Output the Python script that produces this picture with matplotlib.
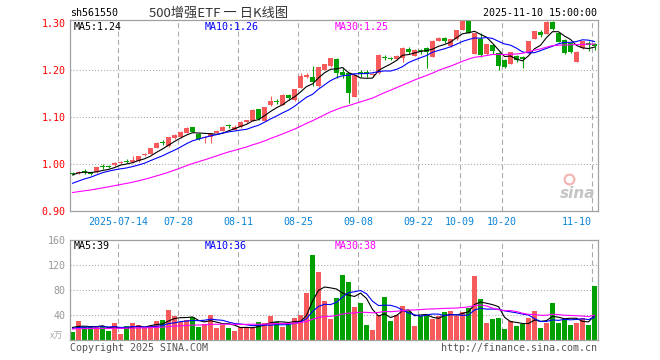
import matplotlib
matplotlib.use("Agg")
import matplotlib.pyplot as plt
import numpy as np
import pandas as pd

plt.rcParams["lines.scale_dashes"] = False

# Palette / fonts
RED = "#f65a5a"
GREEN = "#00a000"
GRID = "#aaaaaa"
FRAME = "#a0a0a0"
DATE_BLUE = "#0a84d8"
MONO = "DejaVu Sans Mono"
CJK = ["Noto Sans CJK SC", "DejaVu Sans"]

# ---- data (2025-07-02 .. 2025-11-10, 88 trading days) ----
opens = [0.981, 0.981, 0.985, 0.981, 0.982, 0.996, 0.996, 0.997, 1.002, 1.007,
         1.004, 1.006, 1.019, 1.022, 1.035, 1.046, 1.038, 1.055, 1.057, 1.067,
         1.078, 1.064, 1.055, 1.058, 1.067, 1.071, 1.083, 1.073, 1.078, 1.089,
         1.092, 1.117, 1.092, 1.125, 1.134, 1.126, 1.146, 1.136, 1.162, 1.185,
         1.186, 1.165, 1.201, 1.208, 1.223, 1.196, 1.193, 1.143, 1.196, 1.196,
         1.189, 1.193, 1.228, 1.226, 1.223, 1.225, 1.245, 1.230, 1.243, 1.246,
         1.228, 1.262, 1.269, 1.252, 1.265, 1.286, 1.305, 1.235, 1.265, 1.233,
         1.253, 1.237, 1.221, 1.213, 1.229, 1.227, 1.236, 1.267, 1.280, 1.277,
         1.303, 1.278, 1.264, 1.257, 1.218, 1.246, 1.258, 1.256]
closes = [0.979, 0.983, 0.983, 0.978, 0.993, 0.994, 0.994, 1.003, 1.004, 1.005,
          1.008, 1.017, 1.021, 1.033, 1.045, 1.044, 1.057, 1.061, 1.069, 1.077,
          1.069, 1.054, 1.057, 1.065, 1.071, 1.079, 1.081, 1.079, 1.090, 1.093,
          1.115, 1.095, 1.121, 1.135, 1.132, 1.147, 1.141, 1.159, 1.187, 1.190,
          1.175, 1.206, 1.212, 1.225, 1.194, 1.189, 1.152, 1.189, 1.191, 1.191,
          1.191, 1.232, 1.226, 1.223, 1.230, 1.246, 1.239, 1.243, 1.240, 1.238,
          1.262, 1.269, 1.262, 1.265, 1.285, 1.305, 1.279, 1.278, 1.232, 1.255,
          1.241, 1.208, 1.207, 1.238, 1.221, 1.224, 1.261, 1.282, 1.275, 1.303,
          1.287, 1.260, 1.236, 1.239, 1.239, 1.261, 1.253, 1.252]
highs = [0.983, 0.985, 0.989, 0.982, 0.994, 0.999, 0.997, 1.004, 1.006, 1.010,
         1.017, 1.018, 1.023, 1.034, 1.046, 1.052, 1.058, 1.063, 1.070, 1.078,
         1.079, 1.066, 1.060, 1.066, 1.072, 1.080, 1.086, 1.083, 1.091, 1.094,
         1.116, 1.118, 1.122, 1.145, 1.138, 1.148, 1.149, 1.160, 1.193, 1.193,
         1.209, 1.207, 1.213, 1.226, 1.225, 1.207, 1.194, 1.190, 1.199, 1.200,
         1.194, 1.234, 1.232, 1.227, 1.231, 1.248, 1.248, 1.244, 1.245, 1.248,
         1.263, 1.270, 1.270, 1.266, 1.286, 1.306, 1.306, 1.279, 1.278, 1.256,
         1.256, 1.238, 1.223, 1.239, 1.231, 1.229, 1.262, 1.283, 1.285, 1.304,
         1.304, 1.279, 1.265, 1.258, 1.240, 1.262, 1.261, 1.258]
lows = [0.977, 0.979, 0.978, 0.976, 0.981, 0.990, 0.992, 0.996, 1.001, 1.002,
        1.003, 1.005, 1.018, 1.021, 1.034, 1.040, 1.037, 1.054, 1.056, 1.066,
        1.068, 1.051, 1.044, 1.045, 1.066, 1.070, 1.077, 1.072, 1.077, 1.088,
        1.091, 1.094, 1.091, 1.124, 1.127, 1.125, 1.137, 1.135, 1.161, 1.182,
        1.167, 1.164, 1.200, 1.207, 1.182, 1.182, 1.129, 1.142, 1.186, 1.186,
        1.186, 1.192, 1.221, 1.221, 1.222, 1.218, 1.233, 1.229, 1.233, 1.205,
        1.227, 1.261, 1.258, 1.250, 1.264, 1.285, 1.278, 1.233, 1.227, 1.232,
        1.235, 1.201, 1.204, 1.212, 1.218, 1.204, 1.235, 1.266, 1.270, 1.276,
        1.286, 1.259, 1.233, 1.237, 1.217, 1.245, 1.240, 1.243]
volumes = [13.3, 31, 21.3, 20.3, 21, 20.5, 15, 27.7, 9.6, 22.4,
           27.7, 24, 18.7, 22.4, 31, 32, 48, 38.4, 29.3, 32,
           36.3, 21.3, 25.6, 40, 20, 24, 20, 15, 20.5, 21.3,
           21, 29.3, 27.7, 38.4, 29.3, 20.3, 24, 35.7, 40, 75.7,
           136, 109.3, 63, 33, 66.7, 104, 92.3, 52.3, 59.7, 24,
           16, 40, 69, 31, 40, 54, 47, 22, 38, 42,
           33, 38, 45, 46, 38, 45, 52, 103, 66, 28,
           34, 36, 18, 31, 22, 25, 36, 46, 20, 28,
           60, 28, 34, 24, 28, 35, 24, 86]
# closes / volumes of the 29 sessions before the window (feed the moving averages)
prior_closes = [0.925, 0.928, 0.930, 0.927, 0.924, 0.926, 0.929, 0.931, 0.933, 0.930,
                0.928, 0.926, 0.929, 0.932, 0.934, 0.931, 0.928, 0.930, 0.932, 0.935,
                0.936, 0.938, 0.942, 0.944, 0.946, 0.962, 0.975, 0.982, 0.986]
prior_volumes = [16, 18, 15, 19, 17, 20, 16, 15, 18, 17,
                 19, 16, 14, 18, 17, 20, 18, 16, 15, 17,
                 18, 16, 19, 17, 17, 22, 20, 24, 21]
tick_idx = [8, 18, 28, 38, 48, 58, 65, 72, 87]
tick_labels = ["2025-07-14", "07-28", "08-11", "08-25", "09-08",
               "09-22", "10-09", "10-20", "11-10"]
price_ticks = [0.90, 1.00, 1.10, 1.20, 1.30]
price_grid = [1.00, 1.10, 1.20]
vol_ticks = [40, 80, 120, 160]
vol_grid = [40, 80, 120]
ma_windows = [5, 10, 30]
ma_colors = ["#000000", "#0000ff", "#ff00ff"]
ma_price_labels = ["1.24", "1.26", "1.25"]
ma_vol_labels = ["39", "36", "38"]

W, H = 660, 360
fig = plt.figure(figsize=(6.6, 3.6), dpi=100)
fig.patch.set_facecolor("white")


def px_axes(x0, y0, x1, y1):
    return fig.add_axes([x0 / W, 1 - y1 / H, (x1 - x0) / W, (y1 - y0) / H])


def ftxt(x, y, s, size=7.2, color="black", ha="left", family=MONO, **kw):
    fig.text(x / W, 1 - y / H, s, fontsize=size, color=color, ha=ha, va="center",
             family=family, **kw)


n = len(closes)
xc = np.arange(n) + 0.42
o = np.array(opens); c = np.array(closes)
up = c >= o
cols = np.where(up, RED, GREEN)

all_c = pd.Series(prior_closes + closes)
all_v = pd.Series(prior_volumes + volumes)

ax = px_axes(70, 20, 598, 211)
axv = px_axes(70, 240, 598, 340)

for a in (ax, axv):
    a.set_xlim(0, n)
    for s in a.spines.values():
        s.set_color(FRAME); s.set_linewidth(0.9)
    for t in tick_idx:
        a.axvline(t, color=GRID, lw=0.8, ls=(0, (3.6, 2.4)), zorder=0)

# ---- price panel ----
ax.set_ylim(0.90, 0.90 + 191 / 470)
for g in price_grid:
    ax.axhline(g, color=GRID, lw=0.8, ls=(0, (0.8, 1.4)), zorder=0)
ax.vlines(xc, lows, highs, colors=cols, lw=0.8, zorder=2)
body = np.maximum(np.abs(c - o), 0.0022)
ax.bar(xc, body, bottom=np.minimum(o, c), width=0.8, color=cols, lw=0, zorder=3)
for w, col in zip(ma_windows, ma_colors):
    ma = all_c.rolling(w).mean().to_numpy()[-n:]
    ax.plot(xc, ma, color=col, lw=0.8, zorder=4)
ax.set_yticks(price_ticks)
ax.set_yticklabels([f"{v:.2f}" for v in price_ticks], family=MONO, fontsize=7.2, color="red")
ax.set_xticks(tick_idx)
ax.set_xticklabels(tick_labels, family=MONO, fontsize=7.2, color=DATE_BLUE)
ax.get_xticklabels()[-1].set_ha("right")
ax.tick_params(length=0, pad=3)
ax.tick_params(axis="x", pad=4)

# sina watermark
ax.text(0.995, 0.05, "sina", transform=ax.transAxes, ha="right", va="bottom",
        fontsize=11, color="#c4c4c4", style="italic", weight="bold", zorder=1)
ax.plot([0.945], [0.17], transform=ax.transAxes, marker="o", ms=7, mfc="none",
        mec="#f3b5b5", mew=1.6, zorder=1)

# ---- volume panel ----
axv.set_ylim(0, 160)
for g in vol_grid:
    axv.axhline(g, color=GRID, lw=0.8, ls=(0, (0.8, 1.4)), zorder=0)
axv.bar(xc, volumes, width=0.8, color=cols, lw=0, zorder=2)
for w, col in zip(ma_windows, ma_colors):
    ma = all_v.rolling(w).mean().to_numpy()[-n:]
    axv.plot(xc, ma, color=col, lw=0.8, zorder=4)
axv.set_yticks(vol_ticks)
axv.set_yticklabels([str(v) for v in vol_ticks], family=MONO, fontsize=7.2, color="#999999")
axv.set_xticks([])
axv.tick_params(length=0, pad=3)

# ---- header / legends / footer ----
ftxt(70, 13, "sh561550")
ftxt(219, 13, "500增强ETF 一 日K线图", size=9.5, color="#333333", ha="center", family=CJK)
ftxt(597, 13, "2025-11-10 15:00:00", ha="right")

for xpos, w, col, lab in zip([74, 205, 335], ma_windows, ma_colors, ma_price_labels):
    ftxt(xpos, 27, f"MA{w}:{lab}", color=col)
for xpos, w, col, lab in zip([74, 205, 335], ma_windows, ma_colors, ma_vol_labels):
    ftxt(xpos, 246, f"MA{w}:{lab}", color=col)

ftxt(63, 336, "x万", size=6.5, color="#aaaaaa", ha="right", family=CJK)
ftxt(70, 348, "Copyright 2025 SINA.COM", color="#555555")
ftxt(597, 348, "http://finance.sina.com.cn", color="#555555", ha="right")

fig.savefig("out.png", dpi=100, facecolor="white")
